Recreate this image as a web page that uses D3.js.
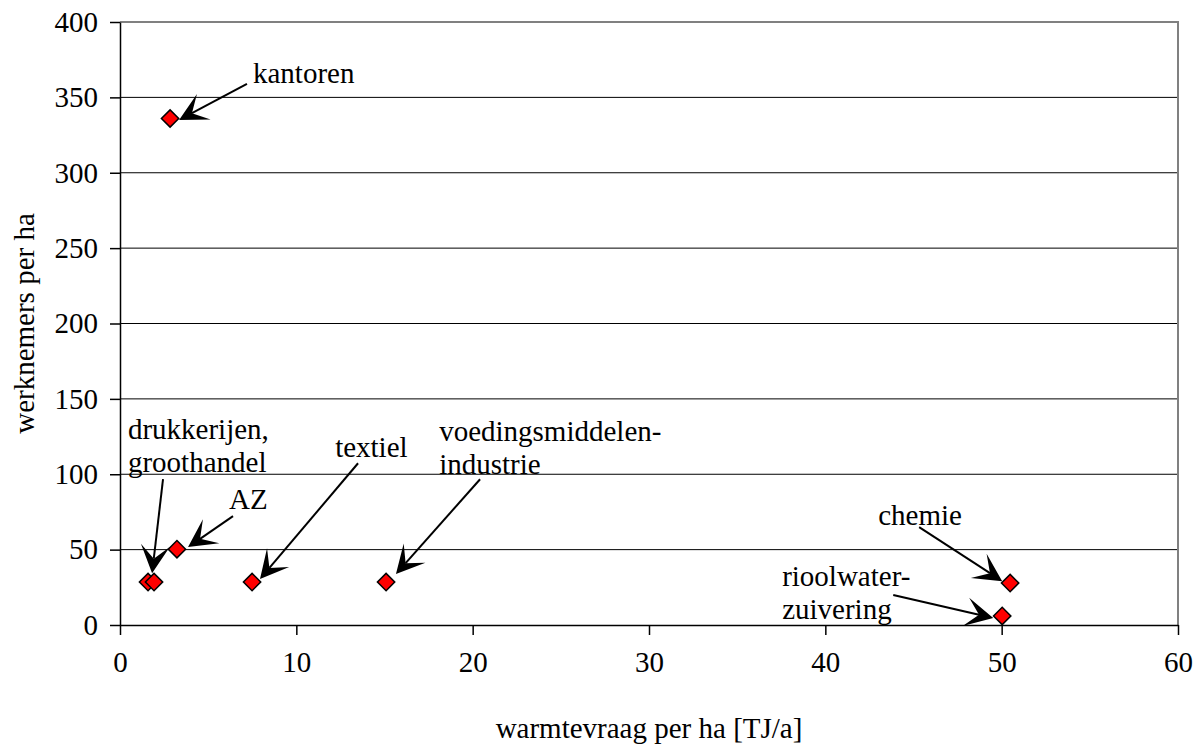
<!DOCTYPE html>
<html>
<head>
<meta charset="utf-8">
<script src="https://cdn.jsdelivr.net/npm/d3@7"></script>
<style>
  body { margin: 0; background: #fff; }
</style>
</head>
<body>
<div id="scatter"></div>
<script>
var svgWidth = 1199;
var svgHeight = 747;

var margin = {
  top: 22,
  right: 21,
  bottom: 122,
  left: 120
};

var width = svgWidth - margin.left - margin.right;
var height = svgHeight - margin.top - margin.bottom;

var serif = "'Liberation Serif', 'Times New Roman', serif";

// data
var warmte = [2.84, 1.59, 1.93, 3.23, 7.49, 15.09, 50.48, 50.03];
var werknemers = [336, 28.5, 28.5, 50.3, 28.5, 28.5, 27.8, 6.0];

var xTicks = [0, 10, 20, 30, 40, 50, 60];
var yTicks = [0, 50, 100, 150, 200, 250, 300, 350, 400];

// annotations: label lines, label anchor and arrow (tail -> tip), in data units
var labelLines = [
  ["kantoren"],
  ["drukkerijen,", "groothandel"],
  ["AZ"],
  ["textiel"],
  ["voedingsmiddelen-", "industrie"],
  ["chemie"],
  ["rioolwater-", "zuivering"]
];
var labelX = [7.54, 0.45, 6.18, 12.2, 18.1, 43.0, 37.55];
var labelY = [359.6, 123.2, 76.8, 111.2, 121.9, 66.2, 25.8];
var arrowFrom = [[7.2, 359], [2.44, 96.7], [6.41, 72.2], [13.5, 107.3], [20.42, 96.7], [45.32, 64.9], [43.85, 19.9]];
var arrowTo = [[3.35, 335], [1.82, 34.4], [3.86, 51.7], [7.94, 30.5], [15.65, 33.8], [50.03, 29.1], [49.52, 4.6]];

var svg = d3
  .select("#scatter")
  .append("svg")
  .attr("width", svgWidth)
  .attr("height", svgHeight)
  .style("font-family", serif);

var chartGroup = svg.append("g")
  .attr("transform", `translate(${margin.left}, ${margin.top})`);

var xLinearScale = d3.scaleLinear()
  .domain([0, 60])
  .range([0, width]);

var yLinearScale = d3.scaleLinear()
  .domain([0, 400])
  .range([height, 0]);

// gridlines
chartGroup.selectAll(".grid")
  .data(yTicks.slice(1, -1))
  .enter()
  .append("line")
  .attr("x1", 0)
  .attr("x2", width)
  .attr("y1", d => yLinearScale(d))
  .attr("y2", d => yLinearScale(d))
  .attr("stroke", "#000")
  .attr("stroke-width", 1);

// gray frame top + right
chartGroup.append("path")
  .attr("d", `M0,${yLinearScale(400)}H${width}V${height}`)
  .attr("fill", "none")
  .attr("stroke", "#808080")
  .attr("stroke-width", 2);

var fontSize = 29;

var bottomAxis = d3.axisBottom(xLinearScale).tickValues(xTicks).tickSize(10).tickPadding(16).tickSizeOuter(0);
var leftAxis = d3.axisLeft(yLinearScale).tickValues(yTicks).tickSize(10).tickPadding(12).tickSizeOuter(0);

var xAxis = chartGroup.append("g")
  .attr("transform", `translate(0, ${height})`)
  .call(bottomAxis);

var yAxis = chartGroup.append("g")
  .call(leftAxis);

[xAxis, yAxis].forEach(function(ax) {
  ax.attr("font-family", null).attr("font-size", null);
  ax.select(".domain").attr("stroke", "#000").attr("stroke-width", 1.5);
  ax.selectAll(".tick line").attr("stroke", "#000").attr("stroke-width", 1.5);
  ax.selectAll(".tick text")
    .style("font-family", serif)
    .style("font-size", fontSize + "px")
    .attr("fill", "#000");
});
xAxis.selectAll(".tick text").attr("dy", "0.71em");

// arrows
var headLen = 28;
var headHalf = 14.5;

labelLines.forEach(function(lines, i) {
  var x0 = xLinearScale(arrowFrom[i][0]), y0 = yLinearScale(arrowFrom[i][1]);
  var x1 = xLinearScale(arrowTo[i][0]), y1 = yLinearScale(arrowTo[i][1]);
  var dx = x1 - x0, dy = y1 - y0;
  var len = Math.sqrt(dx * dx + dy * dy);
  var ux = dx / len, uy = dy / len;
  var px = -uy, py = ux;
  var bx = x1 - ux * headLen, by = y1 - uy * headLen;
  var nx = x1 - ux * headLen * 0.52, ny = y1 - uy * headLen * 0.52;

  chartGroup.append("line")
    .attr("x1", x0)
    .attr("y1", y0)
    .attr("x2", nx)
    .attr("y2", ny)
    .attr("stroke", "#000")
    .attr("stroke-width", 2);

  chartGroup.append("path")
    .attr("d", `M${x1},${y1}L${bx + px * headHalf},${by + py * headHalf}L${nx},${ny}L${bx - px * headHalf},${by - py * headHalf}Z`)
    .attr("fill", "#000");
});

// points
chartGroup.selectAll(".pt")
  .data(warmte)
  .enter()
  .append("path")
  .attr("class", "pt")
  .attr("d", d3.symbol(d3.symbolSquare, 150))
  .attr("transform", (d, i) => `translate(${xLinearScale(d)}, ${yLinearScale(werknemers[i])}) rotate(45)`)
  .attr("fill", "#ff0000")
  .attr("stroke", "#000")
  .attr("stroke-width", 1.5);

// labels
labelLines.forEach(function(lines, i) {
  var t = chartGroup.append("text")
    .attr("x", xLinearScale(labelX[i]))
    .attr("y", yLinearScale(labelY[i]))
    .style("font-family", serif)
    .style("font-size", fontSize + "px");
  lines.forEach(function(s, j) {
    t.append("tspan")
      .attr("x", xLinearScale(labelX[i]))
      .attr("dy", j === 0 ? 0 : 33)
      .text(s);
  });
});

// axis titles
chartGroup.append("text")
  .attr("transform", `translate(${width / 2}, ${height + 113})`)
  .attr("text-anchor", "middle")
  .style("font-family", serif)
  .style("font-size", fontSize + "px")
  .text("warmtevraag per ha [TJ/a]");

chartGroup.append("text")
  .attr("transform", `translate(${34 - margin.left}, ${height / 2}) rotate(-90)`)
  .attr("text-anchor", "middle")
  .style("font-family", serif)
  .style("font-size", fontSize + "px")
  .text("werknemers per ha");
</script>
</body>
</html>
